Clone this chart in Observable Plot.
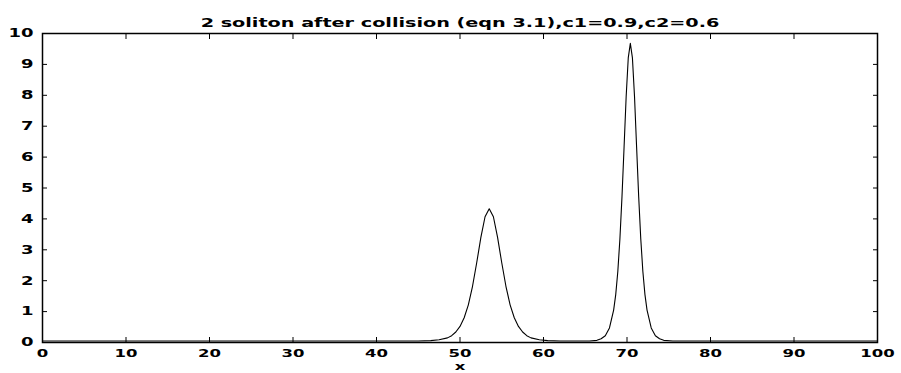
<!DOCTYPE html>
<html>
<head>
<meta charset="utf-8">
<script src="https://cdn.jsdelivr.net/npm/d3@7"></script>
<script src="https://cdn.jsdelivr.net/npm/@observablehq/plot@0.6"></script>
<style>
  html, body { margin: 0; padding: 0; background: #fff; }
  svg { display: block; }
</style>
</head>
<body>
<div id="chart"></div>
<script>
// Title and axis label
const titleText = "2 soliton after collision (eqn 3.1),c1=0.9,c2=0.6";
const xLabel = "x";

// Sampled profile u(x) after the collision
const xs = [0, 10, 20, 30, 40, 45, 46.5, 47.5, 48.5, 49, 49.5, 50, 50.5, 51, 51.5, 52, 52.5, 53, 53.5,
  54, 54.5, 55, 55.5, 56, 56.5, 57, 57.5, 58, 58.5, 59.5, 60.5, 62, 64, 65.5, 66.4, 66.9, 67.4, 67.9,
  68.4, 68.65, 68.9, 69.15, 69.4, 69.65, 69.9, 70.15, 70.4, 70.65, 70.9, 71.15, 71.4, 71.65, 71.9,
  72.15, 72.4, 72.9, 73.4, 73.9, 74.4, 75.5, 80, 90, 100];
const ys = [0.05, 0.05, 0.05, 0.05, 0.05, 0.05, 0.06, 0.09, 0.15, 0.22, 0.34, 0.52, 0.80, 1.22, 1.82, 2.58, 3.40, 4.07, 4.33,
  4.07, 3.40, 2.58, 1.82, 1.22, 0.80, 0.52, 0.34, 0.22, 0.15, 0.09, 0.06, 0.05, 0.05, 0.05, 0.07, 0.12, 0.22, 0.47,
  1.05, 1.55, 2.30, 3.35, 4.72, 6.33, 7.96, 9.21, 9.68, 9.21, 7.96, 6.33, 4.72, 3.35, 2.30,
  1.55, 1.05, 0.47, 0.22, 0.12, 0.07, 0.05, 0.05, 0.05, 0.05];

// Tick values
const xTicks = [0, 10, 20, 30, 40, 50, 60, 70, 80, 90, 100];
const yTicks = [0, 1, 2, 3, 4, 5, 6, 7, 8, 9, 10];

const data = xs.map((x, i) => ({x, y: ys[i]}));

const chart = Plot.plot({
  width: 901,
  height: 373,
  marginLeft: 42,
  marginRight: 24,
  marginTop: 33,
  marginBottom: 31,
  style: {fontFamily: "'DejaVu Sans'", fontWeight: "bold", fontSize: "12px", color: "#000", background: "#fff"},
  x: {domain: [0, 100], label: null},
  y: {domain: [0, 10], label: null},
  marks: [
    Plot.frame({stroke: "#000", strokeWidth: 1.5}),
    Plot.axisX(xTicks, {anchor: "bottom", tickSize: -5, tickPadding: 12, fontSize: 11, label: null}),
    Plot.axisX(xTicks, {anchor: "top", tickSize: -5, tickFormat: () => "", label: null}),
    Plot.axisY(yTicks, {anchor: "left", tickSize: -5, tickPadding: 14, label: null}),
    Plot.axisY(yTicks, {anchor: "right", tickSize: -5, tickFormat: () => "", label: null}),
    Plot.line(data, {x: "x", y: "y", stroke: "#000", strokeWidth: 1.1}),
    Plot.text([titleText], {frameAnchor: "top", dy: -10, lineAnchor: "middle", fontSize: 12, className: "title"}),
    Plot.text([xLabel], {frameAnchor: "bottom", dy: 24, lineAnchor: "middle", fontSize: 11})
  ]
});

// Widen the lettering horizontally around each text's anchor point
chart.querySelectorAll("text").forEach((t) => {
  const stretch = t.closest(".title") ? 1.6 : 1.5;
  const ax = parseFloat(t.getAttribute("x")) || 0;
  const prev = t.getAttribute("transform") || "";
  t.setAttribute("transform", `${prev} translate(${ax},0) scale(${stretch},1) translate(${-ax},0)`.trim());
});

document.getElementById("chart").appendChild(chart);
</script>
</body>
</html>
